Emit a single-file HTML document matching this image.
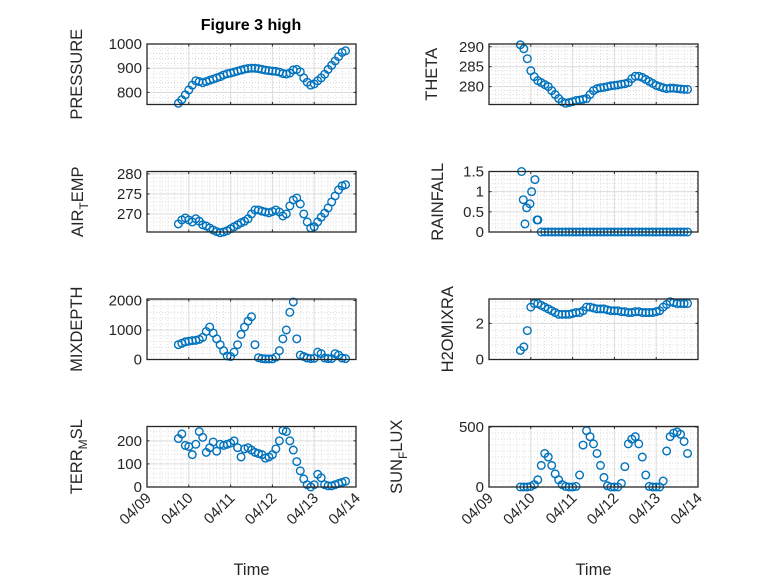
<!DOCTYPE html>
<html><head><meta charset="utf-8"><style>
html,body{margin:0;padding:0;background:#fff;}
svg{display:block;font-family:"Liberation Sans",sans-serif;}
</style></head><body>
<svg id="fig" width="778" height="583" viewBox="0 0 778 583" xmlns="http://www.w3.org/2000/svg">
<rect width="778" height="583" fill="#fff"/>
<text x="251" y="30" text-anchor="middle" font-size="16" font-weight="bold" fill="#000">Figure 3 high</text>
</svg>
<script>
const times = [0.75,0.833,0.917,1.0,1.083,1.167,1.25,1.333,1.417,1.5,1.583,1.667,1.75,1.833,1.917,2.0,2.083,2.167,2.25,2.333,2.417,2.5,2.583,2.667,2.75,2.833,2.917,3.0,3.083,3.167,3.25,3.333,3.417,3.5,3.583,3.667,3.75,3.833,3.917,4.0,4.083,4.167,4.25,4.333,4.417,4.5,4.583,4.667,4.75];
const xTickLabels = ["04/09","04/10","04/11","04/12","04/13","04/14"];
const pressure = [755,770,790,810,830,848,845,840,845,850,855,860,865,872,877,880,884,888,892,896,899,900,900,898,895,892,890,888,887,884,878,876,880,893,895,885,860,842,830,835,848,860,875,895,912,930,948,965,972];
const theta = [290.5,289.5,287,284,282.5,281.5,281,280.5,280,279,278,277,276.2,275.8,276,276.2,276.5,276.6,276.8,277,278,279,279.5,279.7,279.8,280,280.2,280.3,280.4,280.6,280.7,281,282,282.6,282.6,282.3,281.8,281.3,280.8,280.3,280,279.7,279.5,279.6,279.6,279.5,279.4,279.3,279.3];
const airTemp = [267.5,268.5,269,268.5,268,268.8,268.2,267.3,267,266.5,266,265.6,265.3,265.5,265.8,266.3,266.8,267.3,267.8,268.2,268.8,270,271,271,270.7,270.5,270.3,270.6,271,270.5,269.5,270,272,273.5,274,272.5,270,268,266.5,266.8,268,269.2,270.2,271.5,273,274.5,276,277,277.3];
const rainTimes = [0.78,0.82,0.86,0.9,0.98,1.02,1.1,1.15,1.17,1.25,1.333,1.417,1.5,1.583,1.667,1.75,1.833,1.917,2.0,2.083,2.167,2.25,2.333,2.417,2.5,2.583,2.667,2.75,2.833,2.917,3.0,3.083,3.167,3.25,3.333,3.417,3.5,3.583,3.667,3.75,3.833,3.917,4.0,4.083,4.167,4.25,4.333,4.417,4.5,4.583,4.667,4.75];
const rainfall = [1.5,0.8,0.2,0.6,0.7,1.0,1.3,0.3,0.3,0,0,0,0,0,0,0,0,0,0,0,0,0,0,0,0,0,0,0,0,0,0,0,0,0,0,0,0,0,0,0,0,0,0,0,0,0,0,0,0,0,0,0];
const mixDepth = [500,550,600,620,640,650,680,750,950,1100,900,700,500,300,120,100,250,500,850,1100,1300,1450,500,60,30,20,20,20,80,300,700,1000,1600,1950,700,150,100,50,30,40,250,200,50,30,30,200,150,50,30];
const h2oMix = [0.5,0.7,1.6,2.9,3.1,3.1,3.0,2.9,2.8,2.7,2.6,2.5,2.5,2.5,2.5,2.55,2.6,2.6,2.7,2.9,2.9,2.85,2.8,2.8,2.8,2.75,2.7,2.7,2.7,2.65,2.65,2.6,2.6,2.65,2.65,2.6,2.6,2.6,2.6,2.65,2.7,2.9,3.05,3.2,3.15,3.1,3.1,3.1,3.1];
const terrMsl = [210,230,180,175,140,185,240,215,150,170,195,155,185,180,185,190,200,170,130,165,170,160,150,145,140,125,130,140,165,200,245,240,200,160,110,70,35,10,0,10,55,40,10,5,5,10,15,20,25];
const sunFlux = [0,0,0,5,20,60,180,280,250,180,110,60,20,5,0,0,5,100,350,470,420,360,280,180,80,10,0,0,0,30,170,360,400,420,360,250,100,5,0,0,0,50,300,420,450,460,440,380,280];
const ticksP=[800,900,1000], ticksTh=[280,285,290], ticksA=[270,275,280], ticksR=[0,0.5,1,1.5], ticksM=[0,1000,2000], ticksH=[0,2], ticksT=[0,100,200], ticksS=[0,500];

const svg=document.getElementById('fig');
const NS='http://www.w3.org/2000/svg';
function mk(tag,attrs,parent){const e=document.createElementNS(NS,tag);for(const k in attrs)e.setAttribute(k,attrs[k]);(parent||svg).appendChild(e);return e;}

function panel(o){
  const g=mk('g',{});
  
  
  const X0=o.x,X1=o.x+209,Y0=o.y,Y1=o.y+60.5;
  const sx=t=>X0+(t-0)/5*(X1-X0);
  const sy=v=>Y1-(v-o.ylim[0])/(o.ylim[1]-o.ylim[0])*(Y1-Y0);
  for(let d=0;d<5;d++)for(let k=1;k<6;k++){const xx=sx(d+k/6);mk('line',{x1:xx,x2:xx,y1:Y0,y2:Y1,stroke:'#c8c8c8','stroke-width':0.6,'stroke-dasharray':'1,2'},g);}
  const mt=o.minor;
  for(let v=o.ylim[0]-(o.ylim[0]%mt);v<=o.ylim[1];v+=mt){if(v<o.ylim[0])continue;const yy=sy(v);mk('line',{x1:X0,x2:X1,y1:yy,y2:yy,stroke:'#c8c8c8','stroke-width':0.6,'stroke-dasharray':'1,2'},g);}
  for(let d=1;d<5;d++){const xx=sx(d);mk('line',{x1:xx,x2:xx,y1:Y0,y2:Y1,stroke:'#dcdcdc','stroke-width':1},g);}
  o.ticks.forEach(v=>{const yy=sy(v);mk('line',{x1:X0,x2:X1,y1:yy,y2:yy,stroke:'#dcdcdc','stroke-width':1},g);});
  o.vals.forEach((v,i)=>{
    const c=mk('circle',{cx:sx(o.t[i]),cy:sy(v),r:3.8,fill:'none',stroke:'#0072BD','stroke-width':1.4},g);
    
    
  });
  mk('rect',{x:X0,y:Y0,width:X1-X0,height:Y1-Y0,fill:'none',stroke:'#262626','stroke-width':1.3},g);
  for(let d=0;d<=5;d++){const xx=sx(d);mk('line',{x1:xx,x2:xx,y1:Y1,y2:Y1-2.5,stroke:'#262626'},g);mk('line',{x1:xx,x2:xx,y1:Y0,y2:Y0+2.5,stroke:'#262626'},g);}
  o.ticks.forEach((v,i)=>{const yy=sy(v);mk('line',{x1:X0,x2:X0+2.5,y1:yy,y2:yy,stroke:'#262626'},g);mk('line',{x1:X1,x2:X1-2.5,y1:yy,y2:yy,stroke:'#262626'},g);
    const tx=mk('text',{x:X0-5,y:yy+5,'text-anchor':'end','font-size':15,fill:'#262626'},g);tx.textContent=String(v);
    
    
  });
  const lx=o.lx, ly=(Y0+Y1)/2;
  const yl=mk('text',{x:0,y:0,'text-anchor':'middle','font-size':16.5,fill:'#262626',transform:`translate(${lx},${ly}) rotate(-90)`},g);
  
  
  if(o.sub){const a=mk('tspan',{},yl);a.textContent=o.label[0];const b=mk('tspan',{'font-size':12,dy:5},yl);b.textContent=o.label[1];const c=mk('tspan',{dy:-5},yl);c.textContent=o.label[2];}
  else yl.textContent=o.label;
  if(o.xt){
    for(let d=0;d<=5;d++){const xx=sx(d);const t=mk('text',{x:0,y:0,'text-anchor':'end','font-size':15,fill:'#262626',transform:`translate(${xx+5},${Y1+12}) rotate(-45)`},g);t.textContent=xTickLabels[d];
      
      }
    const xl=mk('text',{x:(X0+X1)/2,y:575,'text-anchor':'middle','font-size':16.5,fill:'#262626'},g);xl.textContent='Time';
    
    
  }
}
const L=147,R=489,r1=44,r2=171.5,r3=299,r4=426.5;
panel({name:'pressure',x:L,y:r1,t:times,vals:pressure,ylim:[750,1000],ticks:ticksP,minor:20,label:'PRESSURE',lx:82});
panel({name:'theta',x:R,y:r1,t:times,vals:theta,ylim:[275.5,290.7],ticks:ticksTh,minor:1,label:'THETA',lx:437});
panel({name:'air-temp',x:L,y:r2,t:times,vals:airTemp,ylim:[265.5,280.6],ticks:ticksA,minor:1,label:['AIR','T','EMP'],sub:true,lx:83});
panel({name:'rainfall',x:R,y:r2,t:rainTimes,vals:rainfall,ylim:[0,1.5],ticks:ticksR,minor:0.1,label:'RAINFALL',lx:443});
panel({name:'mixdepth',x:L,y:r3,t:times,vals:mixDepth,ylim:[0,2050],ticks:ticksM,minor:200,label:'MIXDEPTH',lx:82});
panel({name:'h2omixra',x:R,y:r3,t:times,vals:h2oMix,ylim:[0,3.35],ticks:ticksH,minor:0.4,label:'H2OMIXRA',lx:453});
panel({name:'terr-msl',x:L,y:r4,t:times,vals:terrMsl,ylim:[0,262],ticks:ticksT,minor:20,label:['TERR','M','SL'],sub:true,lx:82,xt:true});
panel({name:'sun-flux',x:R,y:r4,t:times,vals:sunFlux,ylim:[0,505],ticks:ticksS,minor:50,label:['SUN','F','LUX'],sub:true,lx:402,xt:true});
</script>
</body></html>
